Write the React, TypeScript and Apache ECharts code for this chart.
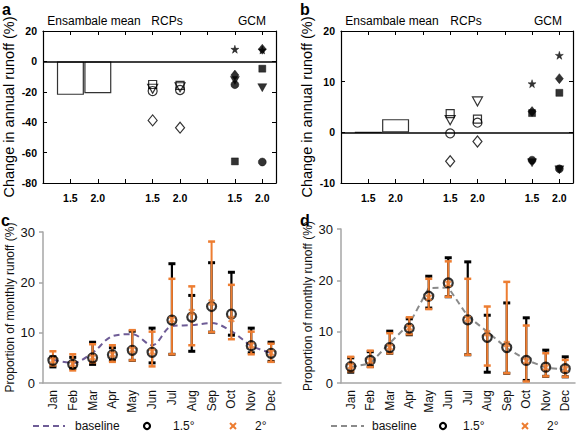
import React, { useEffect, useRef } from 'react';
import * as echarts from 'echarts';

// ---------- categories / labels ----------
const months = ['Jan', 'Feb', 'Mar', 'Apr', 'May', 'Jun', 'Jul', 'Aug', 'Sep', 'Oct', 'Nov', 'Dec'];
const warmingLabels = ['1.5', '2.0'];
const groupNames = ['Ensambale mean', 'RCPs', 'GCM'];
const ensemblePos = [1, 2];
const rcpPos = [4, 5];
const gcmPos = [7, 8];

// ---------- panel a ----------
const aEnsemble = [-22, -21];
const aRcpSquare = [-15.2, -15.8];
const aRcpTriangle = [-18, -17];
const aRcpCircle = [-19.5, -18.8];
const aRcpDiamond = [-38.8, -43.6];
const aGcmStar = [8, 7.5];
const aGcmDiamond = [-9, 8];
const aGcmTriangle = [-12.5, -17.3];
const aGcmCircle = [-15.3, -66.2];
const aGcmSquare = [-65.8, -4.8];

// ---------- panel b ----------
const bEnsemble = [0, 2.6];
const bRcpSquare = [3.7, 2.6];
const bRcpTriangle = [2.4, 6.1];
const bRcpCircle = [-0.2, 1.9];
const bRcpDiamond = [-5.7, -1.8];
const bGcmStar = [9.6, 15.2];
const bGcmDiamond = [4.1, 10.6];
const bGcmTriangle = [-6.0, -7.4];
const bGcmCircle = [-5.5, -7.2];
const bGcmSquare = [3.8, 7.8];

// ---------- panel c ----------
const cBaseline = [4.6, 4.0, 6.0, 9.3, 9.7, 7.5, 11.3, 11.5, 11.9, 10.3, 7.4, 6.0];
const c15Mean = [4.5, 3.7, 5.0, 5.6, 6.5, 6.1, 12.5, 13.1, 15.2, 13.7, 7.4, 5.9];
const c15Low = [3.2, 2.9, 3.7, 4.5, 4.5, 4.0, 5.7, 6.3, 10.1, 9.5, 6.0, 4.3];
const c15High = [5.2, 5.1, 8.1, 7.0, 10.3, 10.9, 23.7, 17.4, 23.9, 22.0, 10.9, 8.1];
const c2Mean = [4.5, 3.8, 5.1, 5.7, 6.6, 6.2, 12.6, 14.1, 16.0, 12.7, 7.5, 6.0];
const c2Low = [3.5, 2.5, 4.1, 4.2, 4.5, 3.3, 5.7, 7.5, 10.1, 8.7, 5.7, 4.2];
const c2High = [6.3, 5.7, 7.7, 7.5, 10.5, 10.2, 20.7, 19.2, 28.1, 19.5, 10.2, 7.8];

// ---------- panel d ----------
const dBaseline = [3.1, 3.8, 7.8, 11.5, 18.5, 18.6, 13.0, 10.0, 6.8, 4.5, 3.0, 2.6];
const d15Mean = [3.2, 4.4, 6.9, 10.7, 16.9, 19.5, 12.3, 8.9, 6.9, 4.4, 3.1, 2.8];
const d15Low = [2.1, 3.2, 5.8, 9.4, 14.6, 16.8, 5.5, 2.1, 1.9, 0.5, 1.3, 1.2];
const d15High = [4.9, 6.1, 10.1, 12.5, 20.8, 24.4, 23.6, 13.2, 15.6, 12.7, 6.4, 5.1];
const d2Mean = [3.3, 4.3, 7.0, 10.8, 16.6, 19.3, 12.5, 9.7, 7.6, 4.3, 3.0, 2.7];
const d2Low = [2.3, 3.1, 5.8, 9.5, 14.4, 16.8, 5.5, 3.4, 1.9, 0.3, 1.3, 1.2];
const d2High = [5.1, 6.3, 9.7, 12.8, 20.3, 23.7, 20.3, 14.9, 19.7, 11.2, 5.8, 4.5];

const FONT = "'Liberation Sans', Arial, sans-serif";
const ORANGE = '#ED7D31';
const PURPLE = '#6E5C96';
const GRAYLINE = '#8a8a8a';
const STAR = 'path://M50,0 L61,35 L98,35 L68,57 L79,91 L50,70 L21,91 L32,57 L2,35 L39,35 Z';
const XMARK = 'path://M0,2 L2,0 L5,3 L8,0 L10,2 L7,5 L10,8 L8,10 L5,7 L2,10 L0,8 L3,5 Z';

const pts = (xs: number[], ys: number[]) => xs.map((x, i) => [x, ys[i]]);

function marker(name: string, axis: number, pos: number[], vals: number[], symbol: string, filled: boolean, size: any, rotate = 0) {
  return {
    type: 'scatter',
    name,
    xAxisIndex: axis * 2,
    yAxisIndex: axis * 2,
    data: pts(pos, vals),
    symbol,
    symbolSize: size,
    symbolRotate: rotate,
    z: 4,
    itemStyle: filled
      ? { color: '#000', borderColor: '#000', borderWidth: 0.5 }
      : { color: 'rgba(255,255,255,0)', borderColor: '#000', borderWidth: 1.2 },
  };
}

function panelScatter(axis: number, ens: number[], rs: number[], rt: number[], rc: number[], rd: number[],
  gs: number[], gd: number[], gt: number[], gc: number[], gq: number[]) {
  return [
    {
      type: 'bar',
      name: 'Ensemble mean',
      xAxisIndex: axis * 2,
      yAxisIndex: axis * 2,
      data: pts(ensemblePos, ens),
      barWidth: 27,
      z: 2,
      itemStyle: { color: 'rgba(255,255,255,0)', borderColor: '#333', borderWidth: 1.2 },
      markLine: {
        silent: true,
        symbol: 'none',
        label: { show: false },
        lineStyle: { color: '#000', type: 'solid', width: 1.5 },
        data: [{ yAxis: 0 }],
      },
    },
    marker('RCP square', axis, rcpPos, rs, 'rect', false, 8),
    marker('RCP triangle', axis, rcpPos, rt, 'triangle', false, [10, 9], 180),
    marker('RCP circle', axis, rcpPos, rc, 'circle', false, 9),
    marker('RCP diamond', axis, rcpPos, rd, 'diamond', false, [9, 11]),
    marker('GCM square', axis, gcmPos, gq, 'rect', true, 7),
    marker('GCM triangle', axis, gcmPos, gt, 'triangle', true, [9, 8], 180),
    marker('GCM circle', axis, gcmPos, gc, 'circle', true, 8),
    marker('GCM diamond', axis, gcmPos, gd, 'diamond', true, [8, 10]),
    marker('GCM star', axis, gcmPos, gs, STAR, true, 8),
  ];
}

function errorBars(name: string, axisIdx: number, lows: number[], highs: number[], color: string, lw: number, capW: number, z: number) {
  return {
    type: 'custom',
    name,
    xAxisIndex: axisIdx,
    yAxisIndex: axisIdx,
    z,
    data: months.map((_, i) => [i, lows[i], highs[i]]),
    encode: { x: 0, y: [1, 2] },
    renderItem: (params: any, api: any) => {
      const x = api.value(0);
      const lo = api.coord([x, api.value(1)]);
      const hi = api.coord([x, api.value(2)]);
      const half = 3.5;
      const style = { stroke: color, lineWidth: lw };
      const cap = { stroke: color, lineWidth: capW };
      return {
        type: 'group',
        children: [
          { type: 'line', shape: { x1: lo[0], y1: lo[1], x2: hi[0], y2: hi[1] }, style },
          { type: 'line', shape: { x1: hi[0] - half, y1: hi[1], x2: hi[0] + half, y2: hi[1] }, style: cap },
          { type: 'line', shape: { x1: lo[0] - half, y1: lo[1], x2: lo[0] + half, y2: lo[1] }, style: cap },
        ],
      };
    },
  };
}

function monthlySeries(axisIdx: number, base: number[], baseColor: string, smooth: boolean,
  m15: number[], l15: number[], h15: number[], m2: number[], l2: number[], h2: number[]) {
  return [
    {
      type: 'line', name: 'baseline', xAxisIndex: axisIdx, yAxisIndex: axisIdx, data: base,
      smooth: smooth ? 0.35 : false, symbol: 'none', z: 2,
      lineStyle: { color: baseColor, width: 2, type: [6, 4] },
    },
    errorBars('1.5° range', axisIdx, l15, h15, '#000', 2.2, 3, 3),
    errorBars('2° range', axisIdx, l2, h2, ORANGE, 2, 2.5, 4),
    {
      type: 'scatter', name: '1.5°', xAxisIndex: axisIdx, yAxisIndex: axisIdx, data: m15, z: 5,
      symbol: 'circle', symbolSize: 9,
      itemStyle: { color: 'rgba(255,255,255,0)', borderColor: '#000', borderWidth: 2.2 },
    },
    {
      type: 'scatter', name: '2°', xAxisIndex: axisIdx, yAxisIndex: axisIdx, data: m2, z: 6,
      symbol: XMARK, symbolSize: 7, itemStyle: { color: ORANGE },
    },
  ];
}

const bottomLabel = (v: number) => {
  const groups = [ensemblePos, rcpPos, gcmPos];
  for (const g of groups) {
    const i = g.indexOf(v);
    if (i >= 0) return warmingLabels[i];
  }
  return '';
};

function boxAxesX(grid: number) {
  const common = {
    type: 'value', gridIndex: grid, min: 0, max: 8.5, interval: 1,
    splitLine: { show: false },
  };
  return [
    {
      ...common, position: 'bottom',
      axisLine: { show: true, onZero: false, lineStyle: { color: '#000', width: 1.2 } },
      axisTick: { show: true, inside: true, length: 4, lineStyle: { color: '#000' } },
      axisLabel: {
        formatter: bottomLabel,
        fontFamily: FONT, fontSize: 10.5, fontWeight: 'bold', color: '#000', margin: 9,
      },
    },
    {
      ...common, position: 'top',
      axisLine: { show: true, onZero: false, lineStyle: { color: '#000', width: 1.2 } },
      axisTick: { show: true, inside: true, length: 4, lineStyle: { color: '#000' } },
      axisLabel: { show: false },
    },
  ];
}

function boxAxesY(grid: number, min: number, max: number, interval: number) {
  return [
    {
      type: 'value', gridIndex: grid, min, max, interval, position: 'left',
      name: 'Change in annual runoff (%)', nameLocation: 'middle', nameGap: 27,
      nameTextStyle: { fontFamily: FONT, fontSize: 14.5, color: '#000' },
      splitLine: { show: false },
      axisLine: { show: true, onZero: false, lineStyle: { color: '#000', width: 1.2 } },
      axisTick: { show: true, inside: true, length: 4, lineStyle: { color: '#000' } },
      axisLabel: { fontFamily: FONT, fontSize: 10.5, fontWeight: 'bold', color: '#000', margin: 6 },
    },
    {
      type: 'value', gridIndex: grid, min, max, interval, position: 'right',
      splitLine: { show: false },
      axisLine: { show: true, onZero: false, lineStyle: { color: '#000', width: 1.2 } },
      axisTick: { show: true, inside: true, length: 4, lineStyle: { color: '#000' } },
      axisLabel: { show: false },
    },
  ];
}

function monthAxes(grid: number) {
  return {
    x: {
      type: 'category', gridIndex: grid, data: months, boundaryGap: true,
      axisLine: { show: true, lineStyle: { color: '#a6a6a6', width: 1.5 } },
      axisTick: { show: false },
      axisLabel: { rotate: 90, fontFamily: FONT, fontSize: 12, color: '#111', margin: 7 },
    },
    y: {
      type: 'value', gridIndex: grid, min: 0, max: 30, interval: 10,
      name: 'Proportion of monthly runoff (%)', nameLocation: 'middle', nameGap: 27,
      nameTextStyle: { fontFamily: FONT, fontSize: 12, color: '#111' },
      splitLine: { show: false },
      axisLine: { show: true, lineStyle: { color: '#a6a6a6', width: 1.5 } },
      axisTick: { show: true, length: 4, lineStyle: { color: '#a6a6a6', width: 1.5 } },
      axisLabel: { fontFamily: FONT, fontSize: 13, color: '#111', margin: 8 },
    },
  };
}

function groupHeaders(centers: number[], y: number) {
  return groupNames.map((s, i) => ({
    type: 'text', x: centers[i], y,
    style: { text: s, fontFamily: FONT, fontSize: 12, fill: '#000', align: 'center', verticalAlign: 'middle' },
  }));
}

function legendGraphic(x0: number, y: number, lineColor: string, lineLen: number, textX: number, circX: number, t15X: number, xX: number, t2X: number) {
  const txt = (x: number, s: string) => ({
    type: 'text', x, y, style: { text: s, fontFamily: FONT, fontSize: 12, fill: '#111', verticalAlign: 'middle' },
  });
  return [
    { type: 'line', shape: { x1: x0, y1: y, x2: x0 + lineLen, y2: y }, style: { stroke: lineColor, lineWidth: 2, lineDash: [6, 4] } },
    txt(textX, 'baseline'),
    { type: 'circle', shape: { cx: circX, cy: y, r: 3 }, style: { fill: 'none', stroke: '#000', lineWidth: 2.2 } },
    txt(t15X, '1.5°'),
    { type: 'line', shape: { x1: xX - 3, y1: y - 3, x2: xX + 3, y2: y + 3 }, style: { stroke: ORANGE, lineWidth: 2 } },
    { type: 'line', shape: { x1: xX - 3, y1: y + 3, x2: xX + 3, y2: y - 3 }, style: { stroke: ORANGE, lineWidth: 2 } },
    txt(t2X, '2°'),
  ];
}

const panelLabel = (x: number, y: number, s: string) => ({
  type: 'text', x, y, style: { text: s, fontFamily: FONT, fontSize: 16, fontWeight: 'bold', fill: '#000' },
});

export default function App() {
  const ref = useRef<HTMLDivElement>(null);
  useEffect(() => {
    if (!ref.current) return;
    const chart = echarts.init(ref.current, null, { renderer: 'svg' });
    const ax = boxAxesX(0);
    const bx = boxAxesX(1);
    const ay = boxAxesY(0, -80, 20, 20);
    const by = boxAxesY(1, -10, 20, 10);
    const cm = monthAxes(2);
    const dm = monthAxes(3);
    const option: any = {
      animation: false,
      backgroundColor: '#fff',
      textStyle: { fontFamily: FONT },
      grid: [
        { left: 43, top: 31, width: 233, height: 152 },
        { left: 341, top: 31, width: 233, height: 152 },
        { left: 43, top: 232, width: 238, height: 151 },
        { left: 341, top: 229, width: 234, height: 154 },
      ],
      xAxis: [ax[0], ax[1], bx[0], bx[1], cm.x, dm.x],
      yAxis: [ay[0], ay[1], by[0], by[1], cm.y, dm.y],
      series: [
        ...panelScatter(0, aEnsemble, aRcpSquare, aRcpTriangle, aRcpCircle, aRcpDiamond,
          aGcmStar, aGcmDiamond, aGcmTriangle, aGcmCircle, aGcmSquare),
        ...panelScatter(1, bEnsemble, bRcpSquare, bRcpTriangle, bRcpCircle, bRcpDiamond,
          bGcmStar, bGcmDiamond, bGcmTriangle, bGcmCircle, bGcmSquare),
        ...monthlySeries(4, cBaseline, PURPLE, true, c15Mean, c15Low, c15High, c2Mean, c2Low, c2High),
        ...monthlySeries(5, dBaseline, GRAYLINE, false, d15Mean, d15Low, d15High, d2Mean, d2Low, d2High),
      ],
      graphic: [
        panelLabel(2, 1, 'a'),
        panelLabel(300, 1, 'b'),
        panelLabel(1, 212, 'c'),
        panelLabel(300, 212, 'd'),
        ...groupHeaders([94, 167, 252], 21),
        ...groupHeaders([392, 466, 548], 21),
        ...legendGraphic(33, 426, PURPLE, 32, 75, 147, 173, 233, 255),
        ...legendGraphic(331, 426, GRAYLINE, 33, 372, 443, 463, 525, 547),
      ],
    };
    chart.setOption(option);
    return () => chart.dispose();
  }, []);
  return <div ref={ref} style={{ position: 'absolute', left: 0, top: 0, width: 576, height: 432 }} />;
}
